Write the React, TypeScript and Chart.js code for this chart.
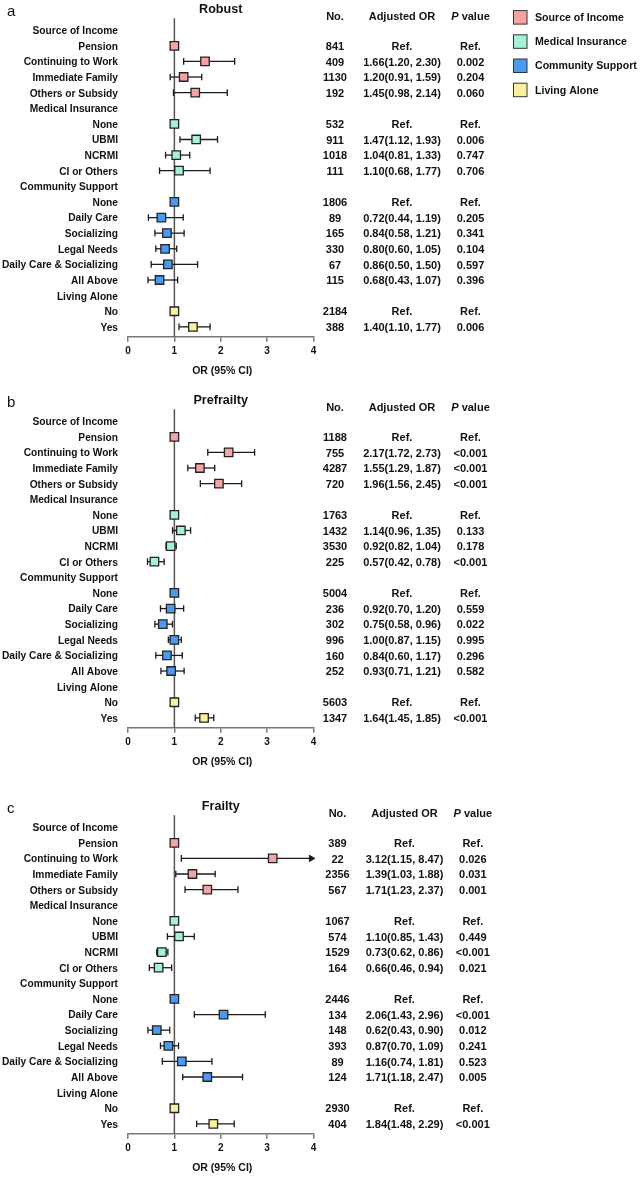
import React, { useEffect, useRef } from "react";
import { Chart, registerables } from "chart.js";
Chart.register(...registerables);

// ---------- data ----------
const rowLabels = [
  "Source of Income", "Pension", "Continuing to Work", "Immediate Family", "Others or Subsidy",
  "Medical Insurance", "None", "UBMI", "NCRMI", "CI or Others",
  "Community Support", "None", "Daily Care", "Socializing", "Legal Needs", "Daily Care & Socializing", "All Above",
  "Living Alone", "No", "Yes",
];
// -1 = group header row
const rowGroups = [-1, 0, 0, 0, 0, -1, 1, 1, 1, 1, -1, 2, 2, 2, 2, 2, 2, -1, 3, 3];
const groupNames = ["Source of Income", "Medical Insurance", "Community Support", "Living Alone"];
const groupColors = ["#F6A3A3", "#A4F0D8", "#4A9BF0", "#F8F29E"];
const xTicks = [0, 1, 2, 3, 4];
const tableHeaders = ["No.", "Adjusted OR", "P value"];

// Robust
const robustOR = [null, 1, 1.66, 1.20, 1.45, null, 1, 1.47, 1.04, 1.10, null, 1, 0.72, 0.84, 0.80, 0.86, 0.68, null, 1, 1.40];
const robustLo = [null, null, 1.20, 0.91, 0.98, null, null, 1.12, 0.81, 0.68, null, null, 0.44, 0.58, 0.60, 0.50, 0.43, null, null, 1.10];
const robustHi = [null, null, 2.30, 1.59, 2.14, null, null, 1.93, 1.33, 1.77, null, null, 1.19, 1.21, 1.05, 1.50, 1.07, null, null, 1.77];
const robustN = ["", "841", "409", "1130", "192", "", "532", "911", "1018", "111", "", "1806", "89", "165", "330", "67", "115", "", "2184", "388"];
const robustP = ["", "Ref.", "0.002", "0.204", "0.060", "", "Ref.", "0.006", "0.747", "0.706", "", "Ref.", "0.205", "0.341", "0.104", "0.597", "0.396", "", "Ref.", "0.006"];

// Prefrailty
const prefrailtyOR = [null, 1, 2.17, 1.55, 1.96, null, 1, 1.14, 0.92, 0.57, null, 1, 0.92, 0.75, 1.00, 0.84, 0.93, null, 1, 1.64];
const prefrailtyLo = [null, null, 1.72, 1.29, 1.56, null, null, 0.96, 0.82, 0.42, null, null, 0.70, 0.58, 0.87, 0.60, 0.71, null, null, 1.45];
const prefrailtyHi = [null, null, 2.73, 1.87, 2.45, null, null, 1.35, 1.04, 0.78, null, null, 1.20, 0.96, 1.15, 1.17, 1.21, null, null, 1.85];
const prefrailtyN = ["", "1188", "755", "4287", "720", "", "1763", "1432", "3530", "225", "", "5004", "236", "302", "996", "160", "252", "", "5603", "1347"];
const prefrailtyP = ["", "Ref.", "<0.001", "<0.001", "<0.001", "", "Ref.", "0.133", "0.178", "<0.001", "", "Ref.", "0.559", "0.022", "0.995", "0.296", "0.582", "", "Ref.", "<0.001"];

// Frailty
const frailtyOR = [null, 1, 3.12, 1.39, 1.71, null, 1, 1.10, 0.73, 0.66, null, 1, 2.06, 0.62, 0.87, 1.16, 1.71, null, 1, 1.84];
const frailtyLo = [null, null, 1.15, 1.03, 1.23, null, null, 0.85, 0.62, 0.46, null, null, 1.43, 0.43, 0.70, 0.74, 1.18, null, null, 1.48];
const frailtyHi = [null, null, 8.47, 1.88, 2.37, null, null, 1.43, 0.86, 0.94, null, null, 2.96, 0.90, 1.09, 1.81, 2.47, null, null, 2.29];
const frailtyN = ["", "389", "22", "2356", "567", "", "1067", "574", "1529", "164", "", "2446", "134", "148", "393", "89", "124", "", "2930", "404"];
const frailtyP = ["", "Ref.", "0.026", "0.031", "0.001", "", "Ref.", "0.449", "<0.001", "0.021", "", "Ref.", "<0.001", "0.012", "0.241", "0.523", "0.005", "", "Ref.", "<0.001"];

// ---------- layout ----------
const W = 640;
const X_MIN = 0, X_MAX = 4;
const Y_MIN = -0.76, Y_MAX = 19.63;
const PLOT_LEFT = 128, PLOT_RIGHT = 313.5, PLOT_TOP = 18.3, AXIS_Y = 336.7;
const FONT = '"Liberation Sans", Arial, Helvetica, sans-serif';
const INK = "#111";
const TXT_DY = 1.1;

type Num = number | null;
type PanelDef = {
  letter: string; title: string;
  or: Num[]; lo: Num[]; hi: Num[]; n: string[]; p: string[];
  top: number; height: number; cols: number[]; legend: boolean;
};

const panels: PanelDef[] = [
  { letter: "a", title: "Robust", or: robustOR, lo: robustLo, hi: robustHi, n: robustN, p: robustP, top: 0, height: 391, cols: [335, 402, 470.5], legend: true },
  { letter: "b", title: "Prefrailty", or: prefrailtyOR, lo: prefrailtyLo, hi: prefrailtyHi, n: prefrailtyN, p: prefrailtyP, top: 391, height: 406, cols: [335, 402, 470.5], legend: false },
  { letter: "c", title: "Frailty", or: frailtyOR, lo: frailtyLo, hi: frailtyHi, n: frailtyN, p: frailtyP, top: 797, height: 380, cols: [337.5, 404.5, 472.8], legend: false },
];

const fmt = (v: number) => v.toFixed(2);

function Panel({ def }: { def: PanelDef }) {
  const ref = useRef<HTMLCanvasElement>(null);
  useEffect(() => {
    const canvas = ref.current!;
    const datasets: any[] = [];

    // squares
    const sqData: any[] = [];
    const sqColors: string[] = [];
    def.or.forEach((v, i) => {
      if (v !== null) { sqData.push({ x: v, y: i }); sqColors.push(groupColors[rowGroups[i]]); }
    });
    datasets.push({
      type: "scatter", data: sqData, pointStyle: "rect", pointRadius: 6, pointHoverRadius: 6,
      pointBackgroundColor: sqColors, pointBorderColor: "#222", pointBorderWidth: 1.3, order: 0, clip: false,
    });

    // CI lines, caps, arrows
    const capData: any[] = [];
    const arrowData: any[] = [];
    def.lo.forEach((lo, i) => {
      const hi = def.hi[i];
      if (lo === null || hi === null) return;
      capData.push({ x: lo, y: i });
      if (hi <= X_MAX) capData.push({ x: hi, y: i });
      else arrowData.push({ x: X_MAX - 0.05, y: i });
      datasets.push({
        type: "line", data: [{ x: lo, y: i }, { x: Math.min(hi, X_MAX - 0.02), y: i }],
        borderColor: "#1a1a1a", borderWidth: 1.3, pointRadius: 0, order: 2, clip: false,
      });
    });
    datasets.push({
      type: "scatter", data: capData, pointStyle: "line", pointRotation: 90, pointRadius: 3.3,
      pointBorderColor: "#1a1a1a", pointBorderWidth: 1.3, order: 1, clip: false,
    });
    if (arrowData.length) {
      datasets.push({
        type: "scatter", data: arrowData, pointStyle: "triangle", pointRotation: 90, pointRadius: 3.6,
        pointBackgroundColor: "#1a1a1a", pointBorderColor: "#1a1a1a", pointBorderWidth: 1, order: 1, clip: false,
      });
    }
    // reference line at OR = 1
    datasets.push({
      type: "line", data: [{ x: 1, y: Y_MIN }, { x: 1, y: Y_MAX }],
      borderColor: "#555", borderWidth: 1.5, pointRadius: 0, order: 3, clip: false,
    });

    const textPlugin = {
      id: "forestText",
      afterDraw(chart: any) {
        const ctx = chart.ctx;
        const ys = chart.scales.y;
        const xs = chart.scales.x;
        const ca = chart.chartArea;
        ctx.save();
        ctx.fillStyle = INK;
        ctx.textBaseline = "middle";

        // row labels
        ctx.font = `bold 10.2px ${FONT}`;
        ctx.textAlign = "right";
        rowLabels.forEach((t, i) => ctx.fillText(t, ca.left - 10, ys.getPixelForValue(i) + TXT_DY));

        // title
        ctx.font = `bold 12.6px ${FONT}`;
        ctx.textAlign = "center";
        ctx.fillText(def.title, xs.getPixelForValue(2), ys.getPixelForValue(-1.42) + 1.8);

        // panel letter
        ctx.font = `15px ${FONT}`;
        ctx.textAlign = "left";
        ctx.fillText(def.letter, 7, ys.getPixelForValue(-1.25) + 1);

        // axis title
        ctx.font = `bold 10.5px ${FONT}`;
        ctx.textAlign = "center";
        ctx.fillText("OR (95% CI)", (ca.left + ca.right) / 2 + 1.5, ca.bottom + 34);

        // table header
        const hy = ys.getPixelForValue(-0.9) + TXT_DY;
        ctx.font = `bold 11px ${FONT}`;
        ctx.fillText(tableHeaders[0], def.cols[0], hy);
        ctx.fillText(tableHeaders[1], def.cols[1], hy);
        {
          const boldF = `bold 11px ${FONT}`;
          const italF = `italic bold 11px ${FONT}`;
          const rest = tableHeaders[2].slice(1);
          ctx.font = italF; const w1 = ctx.measureText("P").width;
          ctx.font = boldF; const w2 = ctx.measureText(rest).width;
          const x0 = def.cols[2] - (w1 + w2) / 2;
          ctx.textAlign = "left";
          ctx.font = italF; ctx.fillText("P", x0, hy);
          ctx.font = boldF; ctx.fillText(rest, x0 + w1, hy);
          ctx.textAlign = "center";
        }

        // table rows
        ctx.font = `bold 11px ${FONT}`;
        rowLabels.forEach((_, i) => {
          if (rowGroups[i] < 0) return;
          const y = ys.getPixelForValue(i) + TXT_DY;
          const o = def.or[i], lo = def.lo[i], hi = def.hi[i];
          const orText = lo === null || hi === null || o === null ? "Ref." : `${fmt(o)}(${fmt(lo)}, ${fmt(hi)})`;
          ctx.fillText(def.n[i], def.cols[0], y);
          ctx.fillText(orText, def.cols[1], y);
          ctx.fillText(def.p[i], def.cols[2], y);
        });

        // legend
        if (def.legend) {
          ctx.font = `bold 10.6px ${FONT}`;
          ctx.textAlign = "left";
          groupNames.forEach((g, k) => {
            const cy = 17.3 + k * 24.2;
            ctx.fillStyle = groupColors[k];
            ctx.fillRect(513.5, cy - 6.7, 13.5, 13.5);
            ctx.strokeStyle = "#333";
            ctx.lineWidth = 1;
            ctx.strokeRect(513.5, cy - 6.7, 13.5, 13.5);
            ctx.fillStyle = INK;
            ctx.fillText(g, 535, cy + 0.8);
          });
        }
        ctx.restore();
      },
    };

    const chart = new Chart(canvas, {
      type: "scatter",
      data: { datasets },
      options: {
        animation: false,
        responsive: false,
        events: [],
        layout: { padding: { left: PLOT_LEFT, right: W - PLOT_RIGHT, top: PLOT_TOP, bottom: 0 } },
        plugins: { legend: { display: false }, tooltip: { enabled: false } },
        scales: {
          x: {
            type: "linear", min: X_MIN, max: X_MAX, position: "bottom",
            afterBuildTicks: (s: any) => { s.ticks = xTicks.map((v) => ({ value: v })); },
            afterFit: (s: any) => { s.height = def.height - AXIS_Y; },
            ticks: { color: INK, font: { family: FONT, size: 10, weight: "bold" }, padding: 3.5, autoSkip: false, maxRotation: 0 },
            grid: { drawOnChartArea: false, drawTicks: true, tickLength: 5, color: "#777", lineWidth: 1.5, tickWidth: 1.5 },
            border: { display: true, color: "#777", width: 1.5 },
          },
          y: { type: "linear", min: Y_MIN, max: Y_MAX, reverse: true, display: false },
        },
      } as any,
      plugins: [textPlugin],
    });
    return () => chart.destroy();
  }, [def]);

  return (
    <canvas
      ref={ref}
      width={W}
      height={def.height}
      style={{ position: "absolute", left: 0, top: def.top, width: W, height: def.height, display: "block" }}
    />
  );
}

export default function App() {
  return (
    <div style={{ position: "absolute", left: 0, top: 0, width: W, height: 1177, overflow: "hidden", background: "#fff" }}>
      {panels.map((p) => <Panel key={p.letter} def={p} />)}
    </div>
  );
}
